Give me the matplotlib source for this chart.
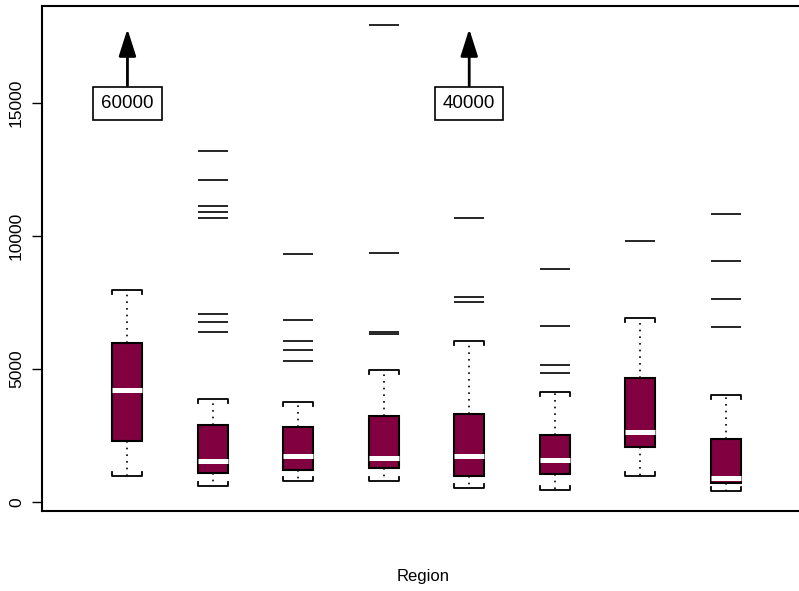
import numpy as np
import matplotlib
matplotlib.use("Agg")
import matplotlib.pyplot as plt

plt.rcParams['font.family'] = ['Liberation Sans', 'DejaVu Sans']

# five-number summaries per region
positions = [1, 2, 3, 4, 5, 6, 7, 8]
whisker_lo = [968, 603, 768, 791, 516, 429, 979, 414]
q1 = [2274, 1068, 1182, 1280, 979, 1043, 2048, 693]
median = [4194, 1520, 1732, 1634, 1732, 1559, 2613, 892]
q3 = [5986, 2888, 2824, 3238, 3302, 2500, 4669, 2349]
whisker_hi = [7970, 3855, 3765, 4958, 6062, 4130, 6916, 4017]

outliers = [
    [],
    [6378, 6754, 7078, 10693, 10896, 11133, 12112, 13204],
    [5297, 5711, 6039, 6841, 9337],
    [6314, 6378, 9375, 17959],
    [7530, 7718, 10693],
    [4857, 5147, 6626, 8772],
    [9827],
    [6578, 7620, 9062, 10843],
]

# values off the top of the scale
offscale_pos = [1, 5]
offscale_val = [60000, 40000]
offscale_label_y = 15000

box_color = '#800040'
box_w = 0.35

fig = plt.figure(figsize=(7.99, 5.91), dpi=100)
ax = fig.add_axes([42 / 799, 1 - 511 / 591, 769 / 799, 505 / 591])

stats = []
for i in range(len(positions)):
    stats.append(dict(whislo=whisker_lo[i], q1=q1[i], med=median[i], q3=q3[i],
                      whishi=whisker_hi[i], fliers=outliers[i]))

ax.bxp(stats, positions=positions, widths=box_w, patch_artist=True, showcaps=False,
       boxprops=dict(facecolor=box_color, edgecolor='black', linewidth=1.5),
       medianprops=dict(color='white', linewidth=3.6, solid_capstyle='butt'),
       whiskerprops=dict(color='black', linewidth=1.2, linestyle=(0, (1, 3))),
       flierprops=dict(marker='_', markersize=21.6, markeredgewidth=1.2,
                       markeredgecolor='black'))

# bracket-shaped whisker caps
d = 150
for p, lo, hi in zip(positions, whisker_lo, whisker_hi):
    xs = [p - box_w / 2, p - box_w / 2, p + box_w / 2, p + box_w / 2]
    ax.plot(xs, [hi - d, hi, hi, hi - d], color='black', lw=1.3)
    ax.plot(xs, [lo + d, lo, lo, lo + d], color='black', lw=1.3)

# arrows for off-scale values
for p, v in zip(offscale_pos, offscale_val):
    ax.annotate('', xy=(p, 17800), xytext=(p, 15660),
                arrowprops=dict(arrowstyle='-|>,head_width=0.35,head_length=1.1',
                                mutation_scale=15, lw=2, color='black',
                                shrinkA=0, shrinkB=0))
    ax.text(p, offscale_label_y, str(v), ha='center', va='center', fontsize=13.5,
            bbox=dict(boxstyle='square,pad=0.42', facecolor='white',
                      edgecolor='black', linewidth=1.2))

ax.set_xlim(0, 9)
ax.set_ylim(-350, 18663)
ax.set_xticks([])
ax.set_yticks([0, 5000, 10000, 15000])
ax.set_yticklabels(['0', '5000', '10000', '15000'], rotation=90, va='center')
ax.tick_params(axis='y', length=7, width=1, labelsize=12.5, pad=6)
for s in ax.spines.values():
    s.set_linewidth(1.5)

fig.text(423 / 799, 1 - 577 / 591, 'Region', ha='center', va='center', fontsize=12)

fig.savefig('out.png', dpi=100)
